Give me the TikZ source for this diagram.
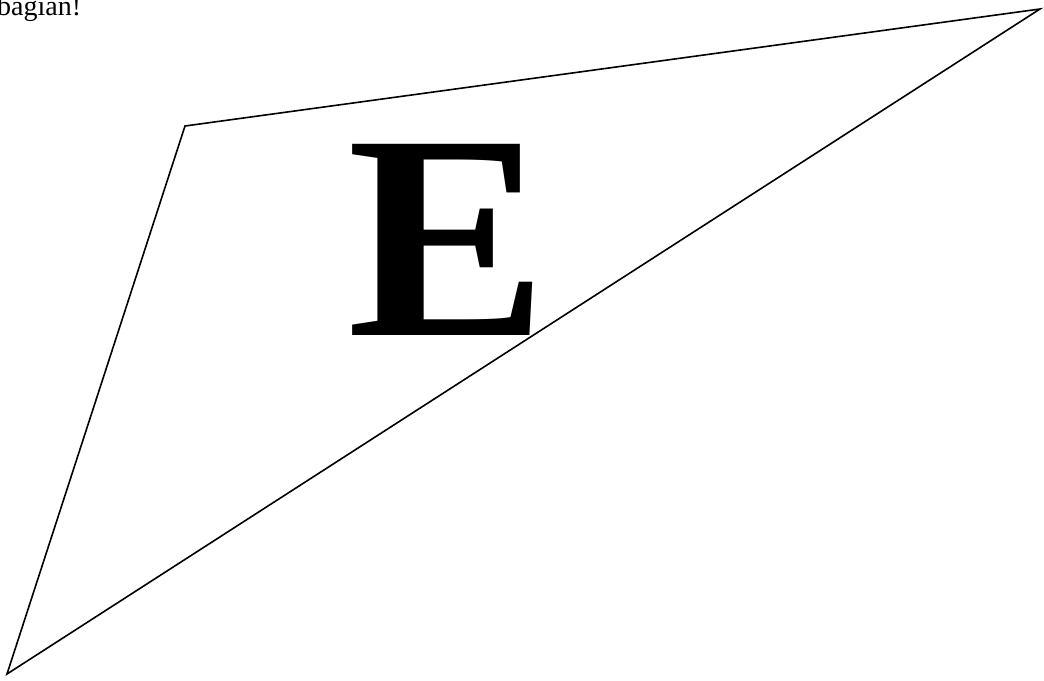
\documentclass[tikz,border=0pt]{standalone}
\usepackage{fontspec}
\setmainfont{Liberation Serif}
\tikzset{
  edge/.style={draw=black,line width=1.6pt,line join=miter},
  notelabel/.style={font=\fontsize{28}{30}\selectfont,inner sep=0pt},
  bigletter/.style={font=\fontsize{292}{300}\selectfont\bfseries,inner sep=0pt}
}

\begin{document}
\begin{tikzpicture}[x=1pt,y=-1pt]
  \useasboundingbox (0,0) rectangle (1044,680);
  % Corners of the triangle.
  \coordinate (apex) at (185,126);
  \coordinate (tip) at (1040,9);
  \coordinate (foot) at (7,674);
  \draw[edge] (apex) -- (tip) -- (foot) -- cycle;

  % Texts.
  \node[notelabel,anchor=base west] (note) at (-3,16) {bagian!};
  \node[bigletter,anchor=base,xscale=1.03] (letter) at (448,335) {E};
\end{tikzpicture}
\end{document}
